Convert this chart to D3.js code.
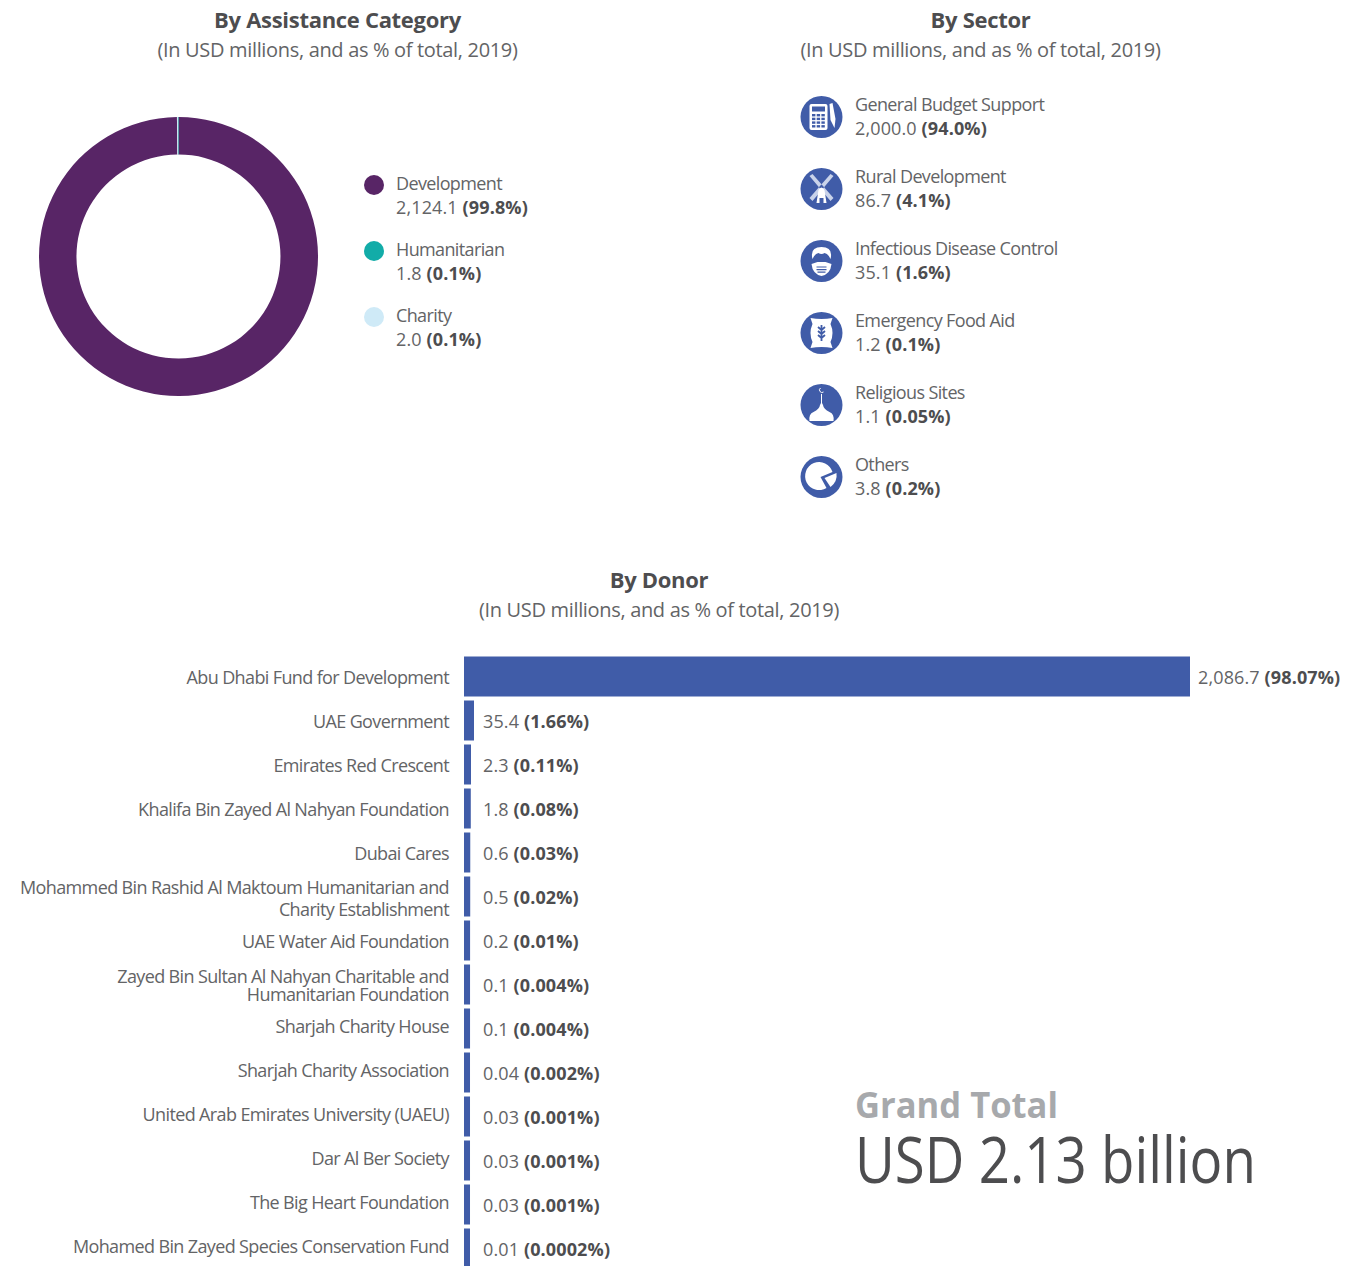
<!DOCTYPE html>
<html lang="en">
<head>
<meta charset="UTF-8">
<title>UAE assistance 2019</title>
<script src="https://cdnjs.cloudflare.com/ajax/libs/d3/7.8.5/d3.min.js"></script>
<style>
    html, body { margin: 0; padding: 0; background: #fff; }
    svg { display: block; font-family: "Open Sans", sans-serif; }
    text { fill: #636466; }
    .title { font-size: 22px; font-weight: 700; letter-spacing: -0.3px; text-anchor: middle; fill: #4d4d4f; }
    .sub { font-size: 20px; text-anchor: middle; letter-spacing: -0.33px; }
    .lbl { font-size: 18px; letter-spacing: -0.63px; }
    .val { font-size: 18px; letter-spacing: 0.13px; }
    .val tspan.b { font-weight: 700; fill: #4d4d4f; }
</style>
</head>
<body>
<svg id="chart" width="1345" height="1266"></svg>
<script>
var categoryNames = ['Development', 'Humanitarian', 'Charity'];
var categoryValues = [2124.1, 1.8, 2.0];
var categoryValueText = ['2,124.1', '1.8', '2.0'];
var categoryShares = ['99.8%', '0.1%', '0.1%'];
var categoryColors = ['#582566', '#12aca8', '#cfeaf7'];

var sectorNames = ['General Budget Support', 'Rural Development', 'Infectious Disease Control', 'Emergency Food Aid', 'Religious Sites', 'Others'];
var sectorValueText = ['2,000.0', '86.7', '35.1', '1.2', '1.1', '3.8'];
var sectorShares = ['94.0%', '4.1%', '1.6%', '0.1%', '0.05%', '0.2%'];

var donorNames = [
    ['Abu Dhabi Fund for Development'],
    ['UAE Government'],
    ['Emirates Red Crescent'],
    ['Khalifa Bin Zayed Al Nahyan Foundation'],
    ['Dubai Cares'],
    ['Mohammed Bin Rashid Al Maktoum Humanitarian and', 'Charity Establishment'],
    ['UAE Water Aid Foundation'],
    ['Zayed Bin Sultan Al Nahyan Charitable and', 'Humanitarian Foundation'],
    ['Sharjah Charity House'],
    ['Sharjah Charity Association'],
    ['United Arab Emirates University (UAEU)'],
    ['Dar Al Ber Society'],
    ['The Big Heart Foundation'],
    ['Mohamed Bin Zayed Species Conservation Fund']
];
var donorValues = [2086.7, 35.4, 2.3, 1.8, 0.6, 0.5, 0.2, 0.1, 0.1, 0.04, 0.03, 0.03, 0.03, 0.01];
var donorValueText = ['2,086.7', '35.4', '2.3', '1.8', '0.6', '0.5', '0.2', '0.1', '0.1', '0.04', '0.03', '0.03', '0.03', '0.01'];
var donorShares = ['98.07%', '1.66%', '0.11%', '0.08%', '0.03%', '0.02%', '0.01%', '0.004%', '0.004%', '0.002%', '0.001%', '0.001%', '0.001%', '0.0002%'];

var BLUE = '#405ca8';
var svg = d3.select('#chart');

function heading(cx, y, title) {
    svg.append('text').attr('class', 'title').attr('x', cx).attr('y', y).text(title);
    svg.append('text').attr('class', 'sub').attr('x', cx).attr('y', y + 29).text('(In USD millions, and as % of total, 2019)');
}
// value followed by the bold share
function valueText(sel, x, y, val, share) {
    var t = sel.append('text').attr('class', 'val').attr('x', x).attr('y', y);
    t.append('tspan').text(val + ' ');
    t.append('tspan').attr('class', 'b').text('(' + share + ')');
    return t;
}

heading(337.5, 28, 'By Assistance Category');
heading(980.5, 28, 'By Sector');
heading(659, 588, 'By Donor');

// donut, default pie sort puts the two tiny slices at the top
var pie = d3.pie();
var arc = d3.arc().innerRadius(102).outerRadius(139.5);
svg.append('g').attr('transform', 'translate(178.5,256.5)')
    .selectAll('path').data(pie(categoryValues)).join('path')
    .attr('d', arc)
    .attr('fill', function (d, i) { return categoryColors[i]; });

categoryNames.forEach(function (name, i) {
    var y = 185 + i * 66;
    svg.append('circle').attr('cx', 374).attr('cy', y).attr('r', 10).attr('fill', categoryColors[i]);
    svg.append('text').attr('class', 'lbl').attr('x', 396).attr('y', y + 5).text(name);
    valueText(svg, 396, y + 29, categoryValueText[i], categoryShares[i]);
});

// sector list with icons
var iconDraw = [
    function (g) { // calculator and pen
        g.append('rect').attr('x', -12).attr('y', -13).attr('width', 18).attr('height', 26).attr('rx', 2).attr('fill', '#fff');
        g.append('rect').attr('x', -9.5).attr('y', -10.5).attr('width', 13).attr('height', 5).attr('fill', BLUE);
        d3.range(12).forEach(function (k) {
            g.append('rect').attr('x', -9.5 + (k % 3) * 4.7).attr('y', -3 + Math.floor(k / 3) * 3.7).attr('width', 3.4).attr('height', 2.4).attr('fill', BLUE);
        });
        g.append('path').attr('d', 'M8,-13 L11,-14 L14,2 L13,11 L9,3 Z').attr('fill', '#fff');
    },
    function (g) { // windmill
        g.append('path').attr('d', 'M-12,-13 L-9,-15 L12,9 L9,12 Z M12,-13 L9,-15 L-12,9 L-9,12 Z').attr('fill', '#c9d3ea');
        g.append('path').attr('d', 'M-5,14 L-3,1 Q0,-4 3,1 L5,14 L2,14 L2,9 L-2,9 L-2,14 Z').attr('fill', '#fff');
    },
    function (g) { // head with mask
        g.append('path').attr('d', 'M-9,-2 Q-12,-14 0,-14 Q12,-14 9,-2 Q7,-7 3,-8 Q0,-6 -3,-8 Q-7,-7 -9,-2 Z').attr('fill', '#fff');
        g.append('path').attr('d', 'M-10,3 L-4,1 L4,1 L10,3 Q9,13 0,15 Q-9,13 -10,3 Z').attr('fill', '#fff');
        g.append('path').attr('d', 'M-5,6 H5 M-5,8.6 H5 M-4,11.2 H4').attr('stroke', BLUE).attr('stroke-width', 1.2).attr('fill', 'none');
    },
    function (g) { // food sack
        g.append('path').attr('d', 'M-11,-15 Q0,-13 11,-15 L9,-9 Q13,0 9,9 L11,15 Q0,13 -11,15 L-9,9 Q-13,0 -9,-9 Z').attr('fill', '#fff');
        g.append('path').attr('d', 'M0,-8 V8 M0,-3 L-3.5,-6 M0,-3 L3.5,-6 M0,1 L-3.5,-2 M0,1 L3.5,-2 M0,5 L-3.5,2 M0,5 L3.5,2').attr('stroke', BLUE).attr('stroke-width', 1.8).attr('fill', 'none');
    },
    function (g) { // dome with crescent
        g.append('path').attr('d', 'M-12,16 Q-13,9 -8,7 Q-2,4 -1.5,0 L-0.5,-2 L-0.5,-11 L0.5,-11 L0.5,-2 L1.5,0 Q2,4 8,7 Q13,9 12,16 Z').attr('fill', '#fff');
        g.append('path').attr('d', 'M-1,-17 A2.5,2.5 0 1 0 2,-13').attr('stroke', '#fff').attr('fill', 'none');
    },
    function (g) { // pie with a loose slice
        g.append('path').attr('d', 'M-1,0 L11,-5 A14,14 0 1 0 5,11 Z').attr('fill', '#fff');
        g.append('path').attr('d', 'M3,1 L15,-4 A15,15 0 0 1 9,10 Z').attr('fill', '#fff');
    }
];

sectorNames.forEach(function (name, i) {
    var y = 117 + i * 72;
    var g = svg.append('g').attr('transform', 'translate(821.5,' + y + ')');
    g.append('circle').attr('r', 21).attr('fill', BLUE);
    iconDraw[i](g);
    svg.append('text').attr('class', 'lbl').attr('x', 855).attr('y', y - 6).text(name);
    valueText(svg, 855, y + 18, sectorValueText[i], sectorShares[i]);
});

// donor bars: very small gifts keep a visible minimum width, as in the original
var x = d3.scaleLinear().domain([0, 0.01, 2.3, 35.4, 2086.7]).range([0, 6, 7, 10, 726]);
var y = d3.scaleBand().domain(d3.range(donorValues.length)).range([656.5, 656.5 + 44 * 14 - 4]).paddingInner(4 / 44).paddingOuter(0);
var chartLeft = 464;
var labelNudge = [0, 0, 0, 0, 0, 1, 0, 0, -3, -3, -3, -3, -3, -3];
var rowCenter = function (i) { return y(i) + y.bandwidth() / 2; };

svg.append('g').selectAll('rect').data(donorValues).join('rect')
    .attr('x', chartLeft)
    .attr('y', function (d, i) { return y(i); })
    .attr('width', function (d) { return x(d); })
    .attr('height', y.bandwidth())
    .attr('fill', BLUE);

donorNames.forEach(function (lines, i) {
    var gap = i == 5 ? 22 : 18;
    lines.forEach(function (line, k) {
        svg.append('text').attr('class', 'lbl').attr('text-anchor', 'end').attr('x', 449)
            .attr('y', rowCenter(i) + labelNudge[i] + 7 + (k - (lines.length - 1) / 2) * gap)
            .text(line);
    });
    var vx = Math.max(483, chartLeft + x(donorValues[i]) + 8);
    valueText(svg, vx, rowCenter(i) + 7, donorValueText[i], donorShares[i]);
});

// grand total
svg.append('text').attr('x', 855).attr('y', 1118).attr('font-size', 36).attr('font-weight', 700).attr('textLength', 203).attr('lengthAdjust', 'spacingAndGlyphs').style('fill', '#a7a9ac').text('Grand Total');
svg.append('text').attr('x', 855).attr('y', 1183).attr('font-size', 64).attr('textLength', 401).attr('lengthAdjust', 'spacingAndGlyphs').style('fill', '#4d4d4f').text('USD 2.13 billion');
</script>
</body>
</html>
